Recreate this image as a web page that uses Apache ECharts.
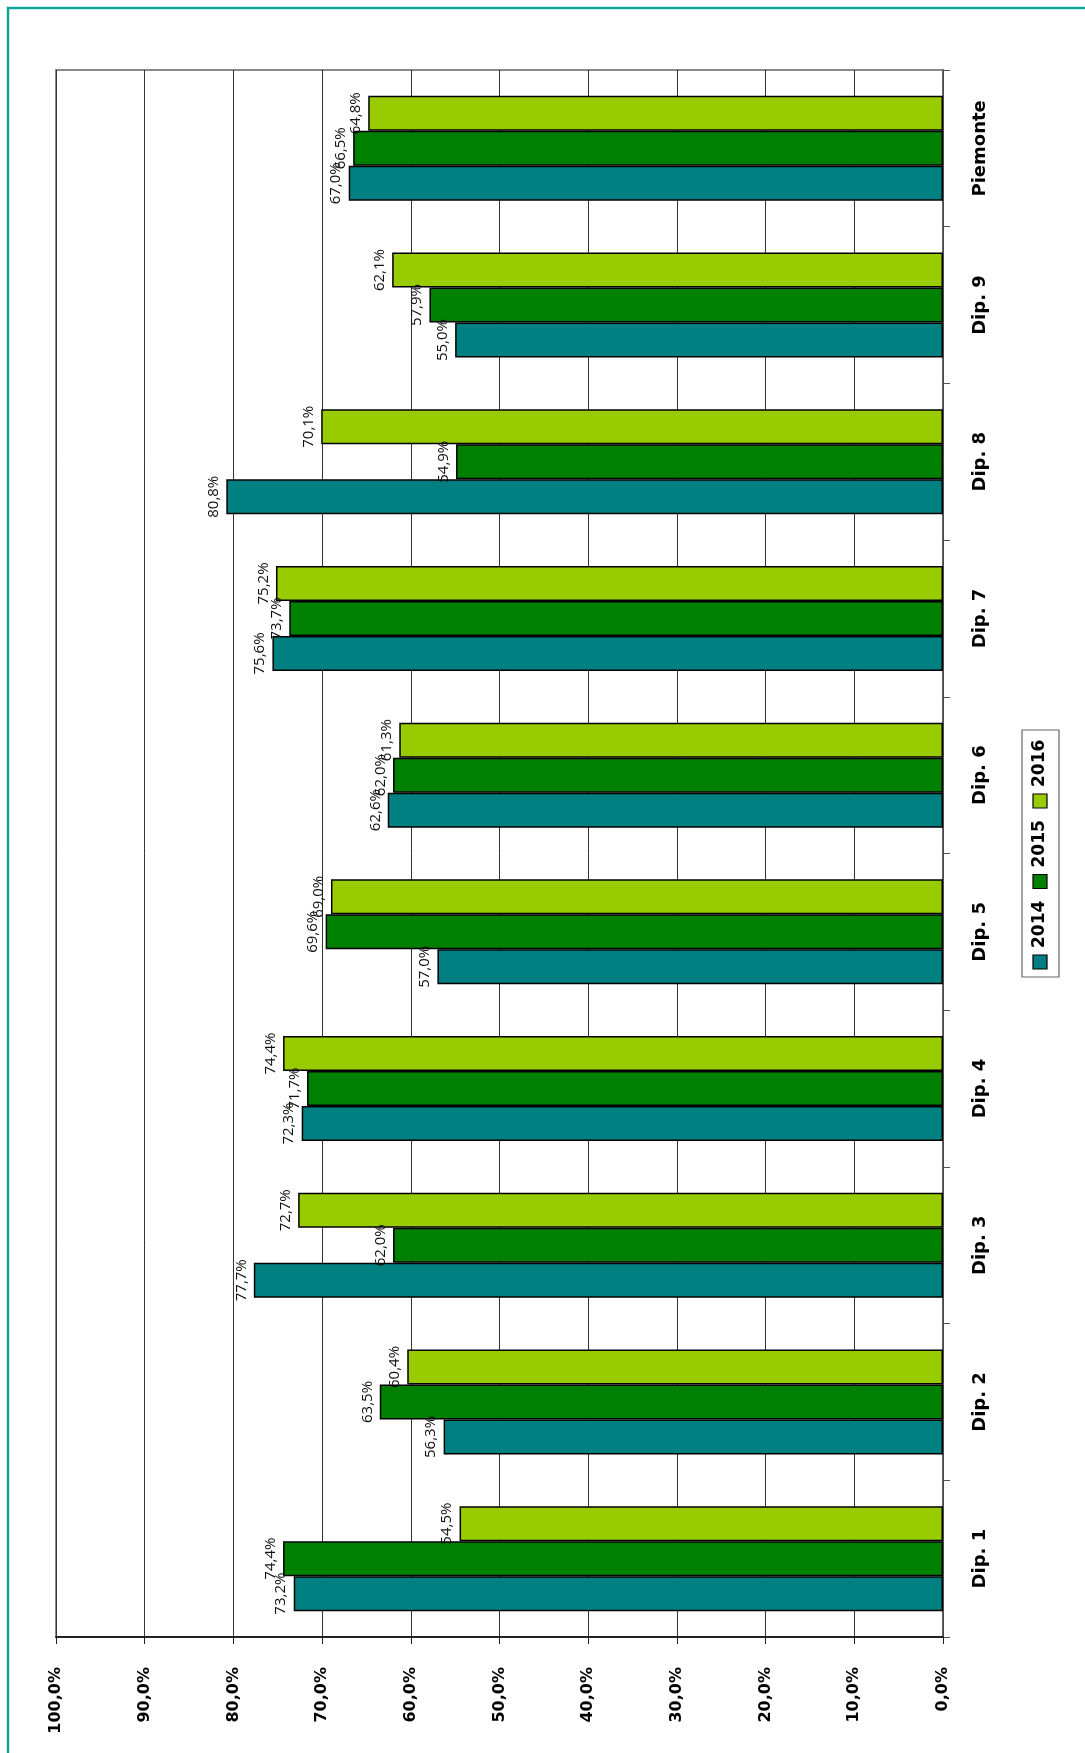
<!DOCTYPE html>
<html>
<head>
<meta charset="utf-8">
<script src="https://cdn.jsdelivr.net/npm/echarts@6/dist/echarts.min.js"></script>
<style>
  html, body { margin: 0; padding: 0; background: #fff; }
  #chart { width: 1085px; height: 1753px; }
</style>
</head>
<body>
<div id="chart"></div>
<script>
// categories, bottom to top
var categories = ['Dip. 1', 'Dip. 2', 'Dip. 3', 'Dip. 4', 'Dip. 5', 'Dip. 6', 'Dip. 7', 'Dip. 8', 'Dip. 9', 'Piemonte'];
var years = ['2014', '2015', '2016'];
var colors = ['#008080', '#008000', '#99CC00'];
var v2014 = [73.2, 56.3, 77.7, 72.3, 57.0, 62.6, 75.6, 80.8, 55.0, 67.0];
var v2015 = [74.4, 63.5, 62.0, 71.7, 69.6, 62.0, 73.7, 54.9, 57.9, 66.5];
var v2016 = [54.5, 60.4, 72.7, 74.4, 69.0, 61.3, 75.2, 70.1, 62.1, 64.8];
var values = [v2014, v2015, v2016];

var pct = function(v) {
	return v.toFixed(1).replace('.', ',') + '%';
};

var chart = echarts.init(document.getElementById('chart'));

// echarts stacks horizontal bars top-down, so feed the years in reverse
// to get 2014 at the bottom of each group
var series = [];
for (var i = years.length - 1; i >= 0; i--) {
	series.push({
		name: years[i],
		type: 'bar',
		data: values[i],
		barGap: '0%',
		barCategoryGap: '33%',
		itemStyle: {
			color: colors[i],
			borderColor: '#000',
			borderWidth: 1.5
		},
		label: {
			show: true,
			position: 'left',
			rotate: 90,
			align: 'center',
			verticalAlign: 'bottom',
			distance: 5,
			fontFamily: 'Open Sans',
			fontSize: 15,
			color: '#111',
			formatter: function(p) { return pct(p.value); }
		},
		animation: false
	});
}

// legend drawn by hand so the text can stand rotated like the rest
var legendItems = [];
years.forEach(function(y, i) {
	var base = 969 - i * 80.5;
	legendItems.push({
		type: 'rect',
		shape: { x: 1033, y: base - 14, width: 14, height: 14 },
		style: { fill: colors[i], stroke: '#000', lineWidth: 1.2 }
	});
	legendItems.push({
		type: 'text',
		x: 1040,
		y: base - 21,
		rotation: Math.PI / 2,
		style: {
			text: y,
			fill: '#000',
			font: 'bold 17px "DejaVu Sans"',
			align: 'left',
			verticalAlign: 'middle'
		}
	});
});

var option = {
	animation: false,
	grid: {
		left: 56,
		right: 142,
		top: 70,
		bottom: 116,
		show: true,
		borderColor: '#8a8a8a',
		borderWidth: 2,
		backgroundColor: '#fff'
	},
	xAxis: {
		type: 'value',
		inverse: true,
		min: 0,
		max: 100,
		interval: 10,
		axisLine: { show: true, lineStyle: { color: '#222', width: 2 } },
		axisTick: { show: true, length: 7, lineStyle: { color: '#222' } },
		splitLine: { show: true, lineStyle: { color: '#333', width: 1 } },
		axisLabel: {
			rotate: 90,
			align: 'right',
			verticalAlign: 'middle',
			margin: 30,
			fontFamily: 'DejaVu Sans',
			fontWeight: 'bold',
			fontSize: 16,
			color: '#000',
			formatter: function(v) { return pct(v); }
		}
	},
	yAxis: {
		type: 'category',
		position: 'right',
		data: categories,
		axisLine: { show: true, lineStyle: { color: '#555', width: 1.5 } },
		axisTick: { show: true, length: 7, lineStyle: { color: '#555' } },
		axisLabel: {
			rotate: 90,
			margin: 28,
			fontFamily: 'DejaVu Sans',
			fontWeight: 'bold',
			fontSize: 18,
			color: '#000'
		}
	},
	series: series,
	graphic: [
		{
			type: 'rect',
			shape: { x: 8, y: 8, width: 1200, height: 1900 },
			style: { fill: 'none', stroke: '#10A39A', lineWidth: 2.5 },
			z: -1
		},
		{
			type: 'rect',
			shape: { x: 1022, y: 730, width: 37, height: 247 },
			style: { fill: '#fff', stroke: '#666', lineWidth: 1.2 }
		}
	].concat(legendItems)
};

chart.setOption(option);
</script>
</body>
</html>
